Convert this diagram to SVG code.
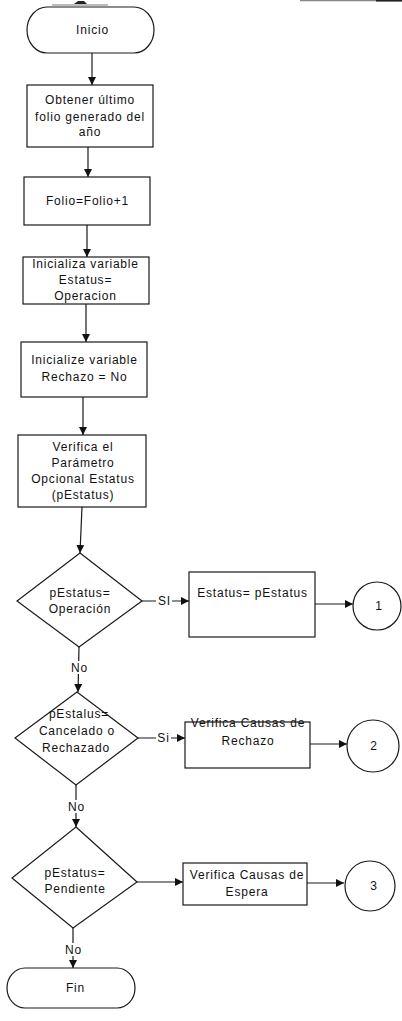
<svg xmlns="http://www.w3.org/2000/svg" width="402" height="1021" viewBox="0 0 402 1021">
  <style>
    .shape { fill: #ffffff; stroke: #1a1a1a; stroke-width: 1.2; }
    .conn { fill: none; stroke: #1a1a1a; stroke-width: 1.2; }
    .lbl { font-family: "Liberation Sans", Arial, sans-serif; font-size: 12px; letter-spacing: 0.8px; fill: #111111; text-anchor: middle; }
    .gap { fill: #ffffff; stroke: none; }
  </style>
  <defs>
    <marker id="arrow" viewBox="0 0 10 10" refX="10" refY="5" markerWidth="8" markerHeight="8" markerUnits="userSpaceOnUse" orient="auto">
      <path d="M0,0 L10,5 L0,10 Z" fill="#111111"/>
    </marker>
  </defs>
  <rect width="402" height="1021" fill="#ffffff"/>

  <!-- fragments along the top edge of the page -->
  <g id="page-edge">
    <line x1="52" y1="5" x2="108" y2="5" stroke="#555555" stroke-width="0.8"/>
    <path d="M74,4 L78,1 L84,1 L87,4 Z" fill="#222222"/>
    <line x1="300" y1="0.6" x2="376" y2="0.6" stroke="#888888" stroke-width="1.2"/>
    <line x1="376" y1="0.8" x2="402" y2="0.8" stroke="#222222" stroke-width="1.6"/>
  </g>

  <!-- connectors -->
  <g id="connectors">
    <line class="conn" x1="92" y1="53" x2="92" y2="85" marker-end="url(#arrow)"/>
    <line class="conn" x1="88" y1="147" x2="88" y2="177" marker-end="url(#arrow)"/>
    <line class="conn" x1="87" y1="225" x2="87" y2="257" marker-end="url(#arrow)"/>
    <line class="conn" x1="86" y1="304" x2="86" y2="342" marker-end="url(#arrow)"/>
    <line class="conn" x1="83" y1="397" x2="83" y2="435" marker-end="url(#arrow)"/>
    <line class="conn" x1="82" y1="507" x2="80" y2="553" marker-end="url(#arrow)"/>
    <!-- decision 1 -->
    <line class="conn" x1="142" y1="601" x2="189" y2="601" marker-end="url(#arrow)"/>
    <rect class="gap" x="156" y="594" width="16" height="14"/>
    <text class="lbl" x="164.5" y="605">SI</text>
    <line class="conn" x1="315" y1="604" x2="353" y2="604" marker-end="url(#arrow)"/>
    <line class="conn" x1="79" y1="647" x2="78" y2="692" marker-end="url(#arrow)"/>
    <rect class="gap" x="69" y="661" width="20" height="13"/>
    <text class="lbl" x="79.5" y="672">No</text>
    <!-- decision 2 -->
    <line class="conn" x1="138" y1="738" x2="185" y2="738" marker-end="url(#arrow)"/>
    <rect class="gap" x="156" y="731" width="15" height="14"/>
    <text class="lbl" x="163.5" y="742">Si</text>
    <line class="conn" x1="310" y1="744" x2="347" y2="744" marker-end="url(#arrow)"/>
    <line class="conn" x1="76" y1="785" x2="76" y2="827" marker-end="url(#arrow)"/>
    <rect class="gap" x="66" y="800" width="20" height="13"/>
    <text class="lbl" x="76.5" y="811">No</text>
    <!-- decision 3 -->
    <line class="conn" x1="137" y1="882" x2="183" y2="882" marker-end="url(#arrow)"/>
    <line class="conn" x1="307" y1="883" x2="344" y2="883" marker-end="url(#arrow)"/>
    <line class="conn" x1="73" y1="928" x2="73" y2="968" marker-end="url(#arrow)"/>
    <rect class="gap" x="63" y="943" width="20" height="13"/>
    <text class="lbl" x="73.5" y="954">No</text>
  </g>

  <g id="inicio">
    <rect class="shape" x="27" y="7" width="127" height="46" rx="20" ry="23"/>
    <text class="lbl" x="92.5" y="34">Inicio</text>
  </g>

  <g id="obtener-folio">
    <rect class="shape" x="27" y="85" width="126" height="62"/>
    <text class="lbl" x="90" y="104">Obtener último</text>
    <text class="lbl" x="90" y="121">folio generado del</text>
    <text class="lbl" x="90" y="136">año</text>
  </g>

  <g id="incrementa-folio">
    <rect class="shape" x="24" y="177" width="126" height="48"/>
    <text class="lbl" x="87.5" y="205">Folio=Folio+1</text>
  </g>

  <g id="inicializa-estatus">
    <rect class="shape" x="23" y="257" width="126" height="47"/>
    <text class="lbl" x="85.5" y="268">Inicializa variable</text>
    <text class="lbl" x="85.5" y="284">Estatus=</text>
    <text class="lbl" x="85.5" y="300">Operacion</text>
  </g>

  <g id="inicializa-rechazo">
    <rect class="shape" x="21" y="342" width="126" height="55"/>
    <text class="lbl" x="84.5" y="364">Inicialize variable</text>
    <text class="lbl" x="84.5" y="381">Rechazo = No</text>
  </g>

  <g id="verifica-parametro">
    <rect class="shape" x="18" y="435" width="128" height="72"/>
    <text class="lbl" x="83" y="451">Verifica el</text>
    <text class="lbl" x="83" y="467">Parámetro</text>
    <text class="lbl" x="83" y="483">Opcional Estatus</text>
    <text class="lbl" x="83" y="499">(pEstatus)</text>
  </g>

  <g id="decision-operacion">
    <polygon class="shape" points="80,553 142,601 79,647 17,601"/>
    <text class="lbl" x="80" y="597">pEstatus=</text>
    <text class="lbl" x="80" y="613">Operación</text>
  </g>

  <g id="asigna-estatus">
    <rect class="shape" x="189" y="572" width="126" height="65"/>
    <text class="lbl" x="252.5" y="597">Estatus= pEstatus</text>
  </g>

  <g id="conector-1">
    <circle class="shape" cx="377" cy="606" r="24"/>
    <text class="lbl" x="379" y="610">1</text>
  </g>

  <g id="decision-cancelado">
    <polygon class="shape" points="77,692 138,738 76,785 15,738"/>
    <text class="lbl" x="79" y="718">pEstalus=</text>
    <text class="lbl" x="77" y="735">Cancelado o</text>
    <text class="lbl" x="76" y="752">Rechazado</text>
  </g>

  <g id="causas-rechazo">
    <rect class="shape" x="185" y="722" width="125" height="46"/>
    <text class="lbl" x="248" y="727">Verifica Causas de</text>
    <text class="lbl" x="248" y="745">Rechazo</text>
  </g>

  <g id="conector-2">
    <circle class="shape" cx="373" cy="746" r="26"/>
    <text class="lbl" x="374" y="750">2</text>
  </g>

  <g id="decision-pendiente">
    <polygon class="shape" points="76,827 137,882 73,928 12,878"/>
    <text class="lbl" x="75" y="877">pEstatus=</text>
    <text class="lbl" x="75" y="893">Pendiente</text>
  </g>

  <g id="causas-espera">
    <rect class="shape" x="183" y="863" width="124" height="42"/>
    <text class="lbl" x="247" y="879">Verifica Causas de</text>
    <text class="lbl" x="247" y="896">Espera</text>
  </g>

  <g id="conector-3">
    <circle class="shape" cx="370" cy="886" r="25"/>
    <text class="lbl" x="374" y="890">3</text>
  </g>

  <g id="fin">
    <rect class="shape" x="7" y="968" width="128" height="40" rx="18" ry="20"/>
    <text class="lbl" x="75.5" y="992">Fin</text>
  </g>
</svg>
